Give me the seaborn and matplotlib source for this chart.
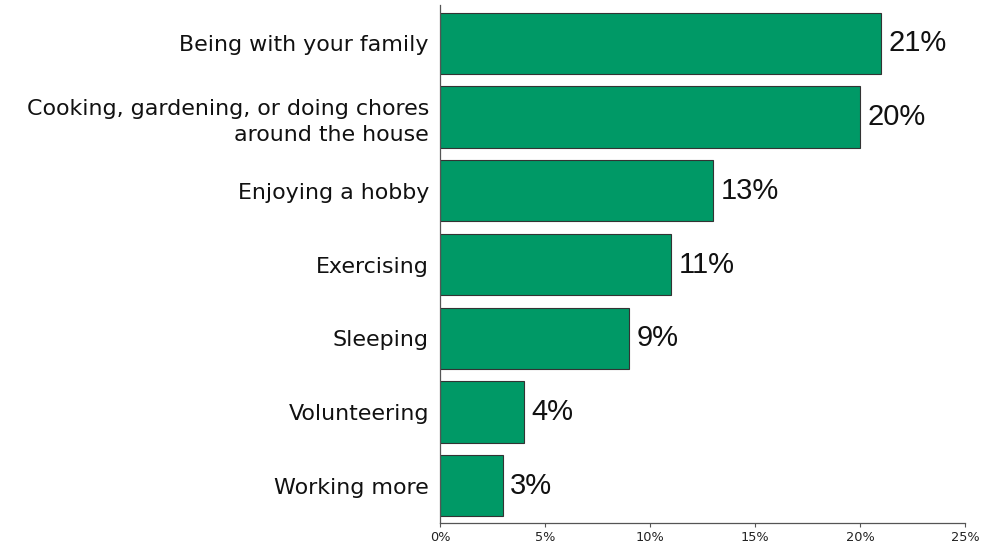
import matplotlib
matplotlib.use("Agg")
import matplotlib.pyplot as plt
import seaborn as sns
import pandas as pd
from matplotlib.ticker import FuncFormatter

categories = ["Being with your family",
              "Cooking, gardening, or doing chores\naround the house",
              "Enjoying a hobby",
              "Exercising",
              "Sleeping",
              "Volunteering",
              "Working more"]
values = [21, 20, 13, 11, 9, 4, 3]
xticks = [0, 5, 10, 15, 20, 25]

sns.set_theme(style="white")
plt.rcParams['font.family'] = ['Liberation Sans', 'DejaVu Sans']

df = pd.DataFrame({"cat": categories, "val": values})

fig = plt.figure(figsize=(9.85, 5.49), dpi=100)
ax = fig.add_axes([0.4467, 0.048, 0.533, 0.943])
sns.barplot(data=df, x="val", y="cat", color="#009966", saturation=1,
            edgecolor="#333333", linewidth=0.8, width=0.83, ax=ax)

ax.set_xlim(0, 25)
ax.set_ylim(6.5, -0.52)
ax.set_xticks(xticks)
ax.xaxis.set_major_formatter(FuncFormatter(lambda v, p: f"{int(v)}%"))
ax.tick_params(axis="x", length=3, width=0.8, color="#555555",
               direction="out", bottom=True, pad=3)
ax.tick_params(axis="y", length=0, pad=8)
for lab in ax.get_xticklabels():
    lab.set_family("DejaVu Sans")
    lab.set_fontsize(9.3)
    lab.set_color("#222222")
for lab in ax.get_yticklabels():
    lab.set_family("DejaVu Sans")
    lab.set_fontsize(15.9)
    lab.set_color("#111111")
    lab.set_multialignment("right")
    lab.set_linespacing(1.35)
ax.set_xlabel("")
ax.set_ylabel("")
for s in ["top", "right"]:
    ax.spines[s].set_visible(False)
for s in ["left", "bottom"]:
    ax.spines[s].set_color("#555555")
    ax.spines[s].set_linewidth(0.9)

for i, v in enumerate(values):
    ax.text(v + 0.35, i, f"{v}%", va="center", ha="left", fontsize=21, color="#111111")

fig.savefig("out.png", dpi=100)
